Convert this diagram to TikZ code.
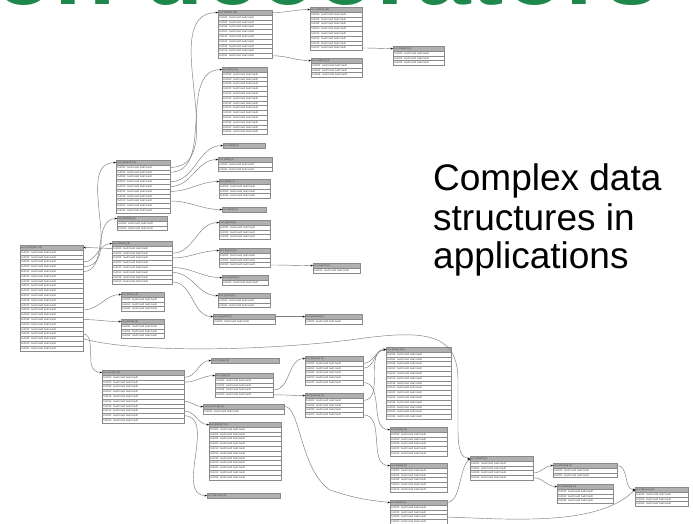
\documentclass[tikz,border=0pt]{standalone}
\usepackage{fontspec}
\setmainfont{Liberation Sans}
\usetikzlibrary{arrows.meta}

\definecolor{hdrfill}{HTML}{B0B0B0}
\definecolor{cellline}{HTML}{8A8A8A}
\definecolor{wirecol}{HTML}{7C7C7C}
\definecolor{slidegreen}{HTML}{1E874B}

\tikzset{
  cellbase/.style={draw=cellline, line width=0.35pt, inner xsep=1pt, inner ysep=0pt,
    minimum height=4.8pt, anchor=north west, align=left,
    font=\fontsize{2.5}{2.7}\selectfont, text=black!75},
  hdrcell/.style={cellbase, fill=hdrfill},
  rowcell/.style={cellbase, fill=white},
  wire/.style={draw=wirecol, line width=0.45pt, -{Stealth[length=2.4pt,width=2pt,black]}},
  captext/.style={anchor=base west, inner sep=0pt, font=\fontsize{37}{40}\selectfont},
}

% offset of a row, in hex, zero padded to two digits
\newcommand\rowhex[1]{\pgfmathparse{Hex(4*(#1-1))}\ifnum\numexpr4*(#1-1)\relax<16 0\fi\pgfmathresult}

% record: name, x, y (top), width, number of rows, header text
\newcommand\recbox[6]{%
  \pgfmathsetmacro\rbw{#4-2}%
  \node[hdrcell, minimum width=#4pt, text width=\rbw pt] (#1) at (#2,#3) {#6};
  \ifnum#5>0
    \foreach \k in {1,...,#5}{
      \node[rowcell, minimum width=#4pt, text width=\rbw pt] (#1-\k) at ({#2},{#3+\k*4.8}) {0x00\rowhex{\k}: bad0 bad0 bad0 bad0};
    }
  \fi
}

\begin{document}
\begin{tikzpicture}[x=1pt,y=-1pt]
\useasboundingbox (0,0) rectangle (693,524);
\clip (0,0) rectangle (693,524);
\fill[white] (0,0) rectangle (693,524);

% slide title, only its foot shows
\node[anchor=base east, inner sep=0pt, text=slidegreen,
  font=\fontsize{100}{100}\selectfont\bfseries] (title) at (660,5) {Python decorators};

% caption
\node[captext] (cap1) at (433,190) {Complex data};
\node[captext] (cap2) at (433,230) {structures in};
\node[captext] (cap3) at (433,268) {applications};

% records
\recbox{root}{20}{245}{63}{21}{vec [root] (len: 20)}
\recbox{A}{116}{160}{54}{10}{vec [netdev] (10)}
\recbox{A2}{117}{216}{50}{2}{vec [bsdtab] (2)}
\recbox{C}{112}{241}{60}{8}{vec [stdout] (8)}
\recbox{D1}{121}{292}{43}{3}{vec [block] (3)}
\recbox{D2}{121}{319}{43}{3}{vec [block] (3)}
\recbox{B1}{218}{10}{54}{9}{vec [stdbuf] (64)}
\recbox{B2}{310}{7}{52}{8}{vec [stdbuf] (64)}
\recbox{B3}{393}{46}{51}{3}{vec [stdpos] (3)}
\recbox{B4}{311}{58}{51}{3}{vec [stdpos] (3)}
\recbox{B5}{222}{67}{45}{13}{vec [buf] (13)}
\recbox{B6}{223}{143}{42}{0}{vec [fileb] (0)}
\recbox{B7}{218}{157}{54}{2}{vec [fileb] (2)}
\recbox{B8}{219}{179}{51}{3}{vec [fileb] (3)}
\recbox{B9}{222}{207}{44}{0}{vec [fileb] (0)}
\recbox{B10}{219}{220}{51}{3}{vec [sysctl] (3)}
\recbox{B11}{219}{248}{51}{3}{vec [sysctl] (3)}
\recbox{B12}{313}{263}{47}{1}{vec [sysctl] (1)}
\recbox{B13}{222}{275}{46}{1}{vec [sysctl] (1)}
\recbox{B14}{218}{293}{52}{2}{vec [sysctl] (2)}
\recbox{E}{213}{314}{62}{1}{vec [pagedir] (1)}
\recbox{F}{305}{314}{57}{1}{vec [pagedir] (1)}
\recbox{H}{102}{370}{82}{10}{vec [node] (10)}
\recbox{I}{211}{358}{68}{0}{vec [fsmap] (0)}
\recbox{J}{215}{373}{58}{4}{vec [grp] (4)}
\recbox{K}{203}{404}{81}{1}{vec [procmap] (1)}
\recbox{L}{209}{422}{72}{11}{vec [pkthdr] (11)}
\recbox{M}{207}{493}{73}{0}{vec [devstat] (0)}
\recbox{N}{305}{356}{58}{5}{vec [tqueue] (5)}
\recbox{O}{305}{393}{58}{4}{vec [tqueue] (4)}
\recbox{P}{386}{347}{65}{14}{vec [taskq] (14)}
\recbox{Q}{390}{427}{57}{5}{vec [taskq] (5)}
\recbox{R}{390}{463}{57}{5}{vec [taskq] (5)}
\recbox{S}{390}{500}{57}{5}{vec [ifnet] (5)}
\recbox{G}{470}{456}{63}{4}{vec [ifaddr] (4)}
\recbox{T}{553}{463}{64}{2}{vec [ifmedia] (2)}
\recbox{U}{557}{484}{56}{3}{vec [ifmedia] (3)}
\recbox{V}{635}{487}{53}{3}{vec [ifqueue] (3)}

% pointers
\draw[wire] (root-4.east) to[out=0,in=180] (A.west);
\draw[wire] (root-5.east) to[out=0,in=180] (A2.west);
\draw[wire] (root-3.east) to[out=0,in=180] (C.west);
\draw[wire] (C-1.west) to[out=180,in=0] (root.east);
\draw[wire] (root-13.east) to[out=0,in=180] (D1.west);
\draw[wire] (root-15.east) to[out=0,in=180] (D2.west);
\draw[wire] (root-18.east) .. controls (92,334) and (90,350) .. (91,362) .. controls (92,371) and (96,372) .. (H.west);
\draw[wire] (root-19.east) .. controls (130,352) and (250,352) .. (350,340)
  .. controls (420,330) and (458,330) .. (458,380) -- (458,430)
  .. controls (458,452) and (462,458) .. (G.west);
\draw[wire] (A-1.east) to[out=0,in=180] (B1.west);
\draw[wire] (A-2.east) to[out=0,in=180] (B5.west);
\draw[wire] (A-4.east) to[out=0,in=180] (B6.west);
\draw[wire] (A-5.east) to[out=0,in=180] (B7.west);
\draw[wire] (A-6.east) to[out=0,in=180] (B8.west);
\draw[wire] (A-8.east) to[out=0,in=180] (B9.west);
\draw[wire] (C-2.east) to[out=0,in=180] (B10.west);
\draw[wire] (C-3.east) to[out=0,in=180] (B11.west);
\draw[wire] (C-5.east) to[out=0,in=180] (B13.west);
\draw[wire] (C-6.east) to[out=0,in=180] (B14.west);
\draw[wire] (C-8.east) to[out=0,in=180] (E.west);
\draw[wire] (B1.east) to[out=0,in=180] (B2.west);
\draw[wire] (B1-9.east) to[out=0,in=180] (B4.west);
\draw[wire] (B2-8.east) to[out=0,in=180] (B3.west);
\draw[wire] (B11-3.east) to[out=0,in=180] (B12.west);
\draw[wire] (E.east) to[out=0,in=180] (F.west);
\draw[wire] (H-1.east) to[out=0,in=180] (I.west);
\draw[wire] (H-2.east) to[out=0,in=180] (J.west);
\draw[wire] (H-6.east) to[out=0,in=180] (K.west);
\draw[wire] (H-8.east) to[out=0,in=180] (L.west);
\draw[wire] (H-9.east) to[out=0,in=180] (M.west);
\draw[wire] (J-3.east) to[out=0,in=180] (N.west);
\draw[wire] (J-4.east) to[out=0,in=180] (O.west);
\draw[wire] (N-1.east) to[out=0,in=180] (P.west);
\draw[wire] (N-2.east) to[out=0,in=180] (P.west);
\draw[wire] (O-1.east) to[out=0,in=180] (P.west);
\draw[wire] (N-5.east) to[out=0,in=180] (Q.west);
\draw[wire] (O-4.east) to[out=0,in=180] (R.west);
\draw[wire] (K.east) .. controls (300,405) and (300,470) .. (330,490) .. controls (360,500) and (370,500) .. (S.west);
\draw[wire] (S.east) .. controls (462,500) and (458,470) .. (G.west);
\draw[wire] (S-3.east) .. controls (520,520) and (600,525) .. (V.west);
\draw[wire] (G-3.east) to[out=0,in=180] (T.west);
\draw[wire] (G-4.east) to[out=0,in=180] (U.west);
\draw[wire] (T.east) to[out=0,in=180] (V.west);
\end{tikzpicture}
\end{document}
